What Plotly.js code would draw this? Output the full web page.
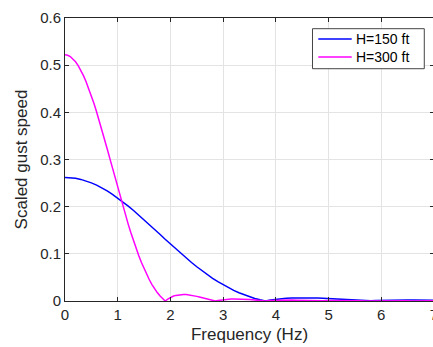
<!DOCTYPE html>
<html>
<head>
<meta charset="utf-8">
<script src="https://cdn.plot.ly/plotly-3.0.1.min.js"></script>
<style>html,body{margin:0;padding:0;background:#fff;overflow:hidden;}#chart{width:434px;height:347px;}</style>
</head>
<body>
<div id="chart"></div>
<script>
// H=150 ft series
const freq150 = [0.0,0.1,0.2,0.3,0.4,0.5,0.6,0.7,0.8,0.9,1.0,
  1.1,1.2,1.3,1.4,1.5,1.6,1.7,1.8,1.9,2.0,
  2.1,2.2,2.3,2.4,2.5,2.6,2.7,2.8,2.9,3.0,
  3.1,3.2,3.3,3.4,3.5,3.6,3.7,3.8,3.9,4.0,
  4.1,4.2,4.3,4.4,4.5,4.6,4.7,4.8,4.9,5.0,
  5.1,5.2,5.3,5.4,5.5,5.6,5.7,5.8,5.9,6.0,
  6.1,6.2,6.3,6.4,6.5,6.6,6.7,6.8,6.9,7.0];
const gust150 = [0.2620,0.2615,0.2601,0.2578,0.2546,0.2505,0.2456,0.2399,0.2334,0.2262,0.2184,
  0.2100,0.2012,0.1919,0.1822,0.1722,0.1621,0.1517,0.1414,0.1310,0.1207,
  0.1106,0.1006,0.0909,0.0816,0.0726,0.0640,0.0558,0.0481,0.0410,0.0343,
  0.0282,0.0226,0.0175,0.0130,0.0090,0.0055,0.0025,0.0000,0.0021,0.0037,
  0.0050,0.0060,0.0066,0.0069,0.0070,0.0069,0.0066,0.0061,0.0055,0.0049,
  0.0042,0.0035,0.0027,0.0020,0.0013,0.0006,0.0000,0.0005,0.0010,0.0014,
  0.0017,0.0019,0.0021,0.0022,0.0022,0.0022,0.0021,0.0019,0.0017,0.0015];

// H=300 ft series
const freq300 = [0.00,0.05,0.10,0.15,0.20,0.25,0.30,0.35,0.40,0.45,0.50,
  0.55,0.60,0.65,0.70,0.75,0.80,0.85,0.90,0.95,1.00,
  1.05,1.10,1.15,1.20,1.25,1.30,1.35,1.40,1.45,1.50,
  1.55,1.60,1.65,1.70,1.75,1.80,1.85,1.90,1.95,2.00,
  2.05,2.10,2.15,2.20,2.25,2.30,2.35,2.40,2.45,2.50,
  2.55,2.60,2.65,2.70,2.75,2.80,2.85,2.90,2.95,3.00,
  3.05,3.10,3.15,3.20,3.25,3.30,3.35,3.40,3.45,3.50,
  3.6,3.7,3.8,3.9,4.0,4.1,4.2,4.3,4.4,4.5,4.6,4.7,4.75,4.8,4.9,5.0,
  5.1,5.2,5.3,5.4,5.5,5.6,5.7,5.8,5.9,6.0,6.1,6.2,6.3,6.4,6.5,6.6,6.65,6.7,6.8,6.9,7.0];
const gust300 = [0.5220,0.5211,0.5183,0.5137,0.5073,0.4991,0.4893,0.4779,0.4650,0.4507,0.4352,
  0.4185,0.4008,0.3823,0.3630,0.3431,0.3229,0.3023,0.2817,0.2610,0.2405,
  0.2203,0.2005,0.1812,0.1625,0.1446,0.1274,0.1112,0.0959,0.0816,0.0683,
  0.0561,0.0450,0.0349,0.0259,0.0179,0.0110,0.0050,0.0000,0.0041,0.0075,
  0.0100,0.0119,0.0131,0.0138,0.0139,0.0137,0.0131,0.0122,0.0111,0.0098,
  0.0084,0.0069,0.0054,0.0039,0.0025,0.0012,0.0000,0.0011,0.0020,0.0028,
  0.0034,0.0039,0.0042,0.0044,0.0044,0.0043,0.0041,0.0038,0.0034,0.0030,
  0.0020,0.0010,0.0000,0.0008,0.0014,0.0018,0.0020,0.0019,0.0016,0.0012,0.0007,0.0002,0.0000,0.0002,0.0006,0.0009,
  0.0010,0.0010,0.0010,0.0008,0.0005,0.0003,0.0000,0.0002,0.0004,0.0006,0.0006,0.0006,0.0005,0.0004,0.0003,0.0001,0.0000,0.0001,0.0002,0.0003,0.0004];

const seriesNames = ["H=150 ft", "H=300 ft"];
const seriesColors = ["#0000ff", "#ff00ff"];
const xTitle = "Frequency (Hz)";
const yTitle = "Scaled gust speed";

const axisColor = "#262626";
const fontFam = "Liberation Sans, Arial, Helvetica, sans-serif";

const traces = [
  {x: freq150, y: gust150, type: "scatter", mode: "lines", name: seriesNames[0],
   line: {color: seriesColors[0], width: 1.5}},
  {x: freq300, y: gust300, type: "scatter", mode: "lines", name: seriesNames[1],
   line: {color: seriesColors[1], width: 1.5}}
];

const axisCommon = {
  showline: true, linecolor: axisColor, linewidth: 1, mirror: "ticks",
  ticks: "inside", ticklen: 4, tickcolor: axisColor, tickwidth: 1,
  showgrid: true, gridcolor: "#e3e3e3", gridwidth: 1, zeroline: false,
  ticklabeloverflow: "allow",
  tickfont: {family: fontFam, size: 15, color: axisColor}
};

// legend box drawn in paper coordinates (MATLAB-style compact legend)
const legBox = {x0: 0.6707, x1: 0.9737, y0: 0.8208, y1: 0.9622};
const legRowY = [0.9258, 0.8622];
const legLineX = [0.6864, 0.7770];
const legTextX = 0.7830;

const shapes = [{type: "rect", xref: "paper", yref: "paper",
  x0: legBox.x0, x1: legBox.x1, y0: legBox.y0, y1: legBox.y1,
  line: {color: "#444444", width: 1}, fillcolor: "#ffffff", layer: "above"}];
const annotations = [];
seriesNames.forEach(function (nm, i) {
  shapes.push({type: "line", xref: "paper", yref: "paper",
    x0: legLineX[0], x1: legLineX[1], y0: legRowY[i], y1: legRowY[i],
    line: {color: seriesColors[i], width: 1.5}, layer: "above"});
  annotations.push({xref: "paper", yref: "paper", x: legTextX, y: legRowY[i],
    xanchor: "left", yanchor: "middle", showarrow: false, text: nm,
    font: {family: fontFam, size: 14, color: "#000000"}});
});

const layout = {
  width: 434, height: 347,
  margin: {l: 65, r: 0, t: 18, b: 46, pad: 0},
  paper_bgcolor: "#ffffff", plot_bgcolor: "#ffffff",
  font: {family: fontFam, color: axisColor},
  showlegend: false,
  shapes: shapes,
  annotations: annotations,
  xaxis: Object.assign({}, axisCommon, {range: [0, 7], dtick: 1, tick0: 0,
    title: {text: xTitle, font: {family: fontFam, size: 17, color: axisColor}, standoff: 6}}),
  yaxis: Object.assign({}, axisCommon, {range: [0, 0.6], dtick: 0.1, tick0: 0,
    title: {text: yTitle, font: {family: fontFam, size: 17, color: axisColor}, standoff: 8}})
};

Plotly.newPlot("chart", traces, layout, {displayModeBar: false, staticPlot: true});
</script>
</body>
</html>
